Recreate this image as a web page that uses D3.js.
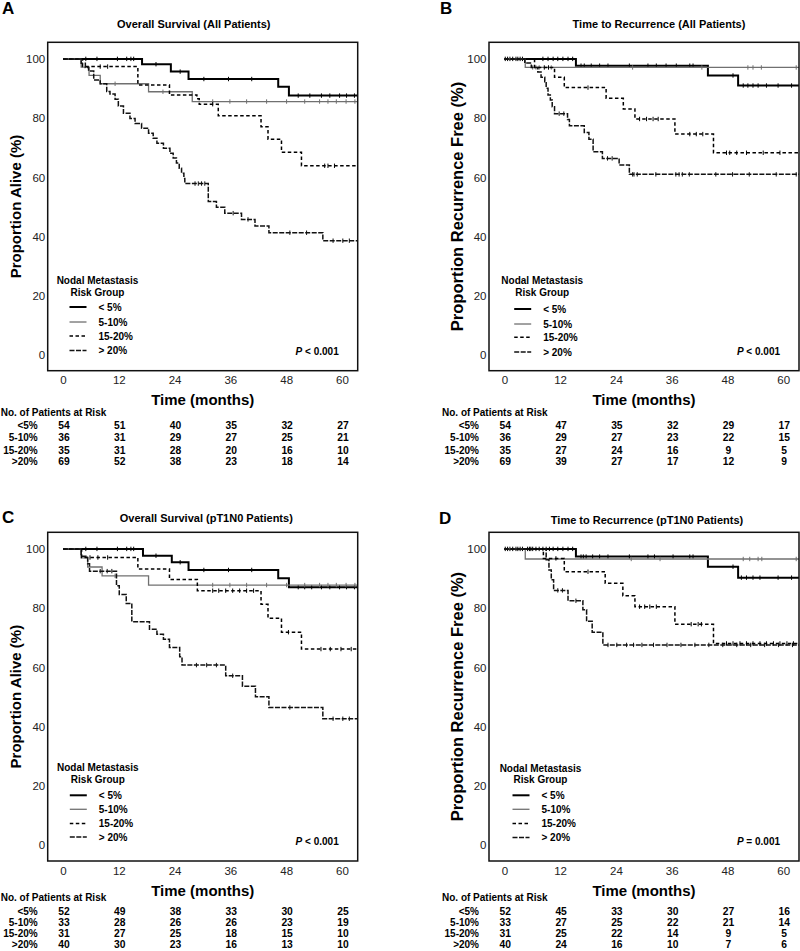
<!DOCTYPE html>
<html><head><meta charset="utf-8">
<script src="https://cdn.jsdelivr.net/npm/d3@7"></script>
<style>
body{margin:0;background:#fff;}
text{font-family:"Liberation Sans",Arial,Helvetica,sans-serif;}
</style>
</head><body>
<svg id="chart" width="800" height="951"></svg>
<script>
// ---------------- DATA ----------------
const timeTicks = [0, 12, 24, 36, 48, 60];
const pctTicks = [0, 20, 40, 60, 80, 100];
const groupNames = ["< 5%", "5-10%", "15-20%", "> 20%"];
const riskRowLabels = ["<5%", "5-10%", "15-20%", ">20%"];
const panelLetters = ["A", "B", "C", "D"];
const panelTitles = ["Overall Survival (All Patients)", "Time to Recurrence (All Patients)",
                     "Overall Survival (pT1N0 Patients)", "Time to Recurrence (pT1N0 Patients)"];
const yAxisLabels = ["Proportion Alive (%)", "Proportion Recurrence Free (%)",
                     "Proportion Alive (%)", "Proportion Recurrence Free (%)"];
const pValueTexts = ["< 0.001", "< 0.001", "< 0.001", "= 0.001"];

// Panel A: overall survival, all patients  ([month, % alive] step points)
const osAllLt5 = [[0,100],[17.0,98.2],[23.2,95.7],[27.0,93.2],[46.3,90.6],[48.6,87.6]];
const osAllLt5Cens = [4.9,7.3,11.7,13.7,14.6,15.2,20.0,25.2,30.3,35.6,40.6,50.6,53.1,55.6,57.4,59.5,61.0,62.7];
const osAll510 = [[0,100],[3.9,97.2],[5.6,94.4],[8.0,91.6],[18.4,88.9],[27.8,85.6]];
const osAll510Cens = [11.2,21.5,32.2,35.9,39.5,43.8,48.1,52.0,55.2,57.0,58.8,60.9,62.8];
const osAll1520 = [[0,100],[4.2,97.4],[16.1,91.2],[22.9,87.8],[28.8,86.5],[29.3,84.7],[33.4,80.8],[42.6,77.1],[44.1,72.9],[47.0,68.5],[51.3,63.9]];
const osAll1520Cens = [8.0,9.6,32.2,56.3,57.0,58.4];
const osAllGt20 = [[0,100],[3.9,98.5],[4.8,97.1],[5.5,95.9],[6.6,92.9],[8.0,91.6],[9.4,89.0],[10.1,88.1],[11.2,86.4],[11.9,84.1],[13.0,81.6],[14.4,79.9],[15.5,78.2],[16.9,76.6],[18.4,74.9],[19.4,73.2],[20.2,71.5],[21.6,69.8],[23.0,68.1],[23.7,66.5],[24.4,64.8],[25.0,63.1],[25.5,61.4],[26.0,59.6],[26.2,57.9],[31.25,51.8],[33.0,49.9],[34.8,47.9],[38.4,45.8],[41.3,43.6],[44.3,41.3],[55.9,38.6]];
const osAllGt20Cens = [28.4,29.1,29.8,30.5,36.6,39.8,48.8,52.4,58.1,60.2,61.6];

// Panel B: time to recurrence, all patients
const ttrAllLt5 = [[0,100],[15.4,97.7],[43.8,94.4],[50.3,91.0]];
const ttrAllLt5Cens = [0.2,0.7,1.2,1.8,2.5,2.9,3.4,3.9,8.3,9.4,10.5,11.5,12.6,13.7,14.7,16.5,17.2,18.7,20.5,22.3,26.9,30.9,32.7,34.8,37.0,39.9,40.6,49.2,51.4,52.4,53.5,54.6,56.4,58.9,61.8];
const ttrAll510 = [[0,100],[4.5,97.1]];
const ttrAll510Cens = [6.1,6.8,7.5,10.1,27.6,42.5,52.4,53.5,55.3,62.8];
const ttrAll1520 = [[0,100],[6.5,97.1],[10.8,93.8],[12.9,90.3],[21.9,86.7],[25.6,83.1],[28.1,79.7],[36.7,74.6],[45.0,68.3]];
const ttrAll1520Cens = [8.6,9.5,18.0,29.1,30.6,32.0,33.1,39.9,41.3,42.7,47.8,48.5,50.0,52.1,55.7,59.3];
const ttrAllGt20 = [[0,100],[4.4,98.6],[5.8,97.1],[7.2,95.6],[7.9,93.8],[8.7,92.3],[9.0,90.1],[9.4,87.8],[9.9,86.1],[10.3,83.8],[10.8,81.5],[13.6,79.5],[14.0,77.4],[17.2,75.1],[18.2,72.9],[19.1,68.6],[21.1,66.4],[24.7,64.2],[26.9,61.0]];
const ttrAllGt20Cens = [11.8,12.8,22.2,23.2,27.6,27.9,28.6,32.6,36.9,37.6,38.3,39.8,45.5,49.1,52.7,58.5,62.8];

// Panel C: overall survival, pT1N0 patients
const osT1Lt5 = [[0,100],[17.2,97.7],[23.4,95.5],[27.0,92.9],[46.3,90.1],[48.6,87.1]];
const osT1Lt5Cens = [4.9,7.3,11.7,13.7,14.6,15.2,20.0,25.2,30.3,35.6,40.6,50.6,52.0,53.5,55.6,57.4,59.5,61.0,62.7];
const osT1510 = [[0,100],[3.9,97.0],[5.3,93.9],[8.4,90.9],[18.4,87.8]];
const osT1510Cens = [11.2,32.2,35.9,39.5,43.8,48.1,52.0,55.2,57.0,58.8,60.9,62.8];
const osT11520 = [[0,100],[4.0,97.1],[16.1,93.2],[22.9,89.7],[28.9,85.9],[42.6,81.3],[44.1,76.6],[47.0,71.9],[51.3,66.2]];
const osT11520Cens = [5.8,7.5,9.6,32.2,33.5,35.0,36.5,38.0,39.5,41.0,48.5,55.5,57.5,59.8,62.0];
const osT1Gt20 = [[0,100],[3.9,97.5],[5.3,95.0],[5.7,92.5],[11.5,87.6],[12.1,84.6],[13.6,81.6],[14.8,75.4],[18.6,72.9],[20.2,71.2],[21.6,69.5],[22.9,66.7],[25.1,63.6],[25.6,60.8],[35.0,57.2],[38.6,53.7],[41.4,50.1],[44.3,46.5],[55.9,42.7]];
const osT1Gt20Cens = [8.0,9.5,10.5,28.7,30.9,33.0,36.5,48.8,58.1,60.2,61.6];

// Panel D: time to recurrence, pT1N0 patients
const ttrT1Lt5 = [[0,100],[15.4,97.4],[43.8,94.0],[50.3,90.3]];
const ttrT1Lt5Cens = [0.2,0.7,1.2,1.8,2.5,2.9,3.4,3.9,5.0,5.4,5.7,6.1,6.8,7.5,8.3,9.0,9.7,10.5,11.5,12.6,13.7,14.7,16.5,17.0,17.6,19.0,20.5,22.3,26.9,30.9,32.3,36.3,39.9,40.6,49.2,51.0,52.1,53.5,55.0,58.9,61.8];
const ttrT1510 = [[0,100],[4.5,96.6]];
const ttrT1510Cens = [27.3,33.5,51.4,52.8,54.6,55.4,62.8];
const ttrT11520 = [[0,100],[8.4,96.8],[12.9,92.3],[21.7,88.4],[25.5,84.2],[28.1,80.5],[36.7,74.6],[45.0,68.1]];
const ttrT11520Cens = [11.1,18.0,29.1,30.2,31.3,32.7,40.2,41.7,42.4,47.8,49.2,50.7,52.1,53.5,55.0,56.4,57.9,59.3,60.8,62.2];
const ttrT1Gt20 = [[0,100],[9.0,96.3],[9.6,92.9],[10.1,89.6],[10.6,86.0],[13.7,82.5],[16.9,79.5],[17.7,75.6],[18.9,71.9],[21.2,67.6]];
const ttrT1Gt20Cens = [11.5,12.5,15.4,22.3,24.2,26.3,27.8,29.6,32.1,35.0,38.0,41.0,44.0,47.0,50.0,53.0,56.0,59.0,62.0];

// numbers at risk (rows: <5%, 5-10%, 15-20%, >20%; columns: 0..60 months)
const riskOsAll  = [[54,51,40,35,32,27],[36,31,29,27,25,21],[35,31,28,20,16,10],[69,52,38,23,18,14]];
const riskTtrAll = [[54,47,35,32,29,17],[36,29,27,23,22,15],[35,27,24,16,9,5],[69,39,27,17,12,9]];
const riskOsT1   = [[52,49,38,33,30,25],[33,28,26,26,23,19],[31,27,25,18,15,10],[40,30,23,16,13,10]];
const riskTtrT1  = [[52,45,33,30,27,16],[33,27,25,22,21,14],[31,25,22,14,9,5],[40,24,16,10,7,6]];

// ---------------- STYLE / LAYOUT ----------------
const lineStyles = [
  {stroke:"#000", width:2.0, dash:null},
  {stroke:"#707070", width:1.3, dash:null},
  {stroke:"#000", width:1.5, dash:"3.5,2.5"},
  {stroke:"#111", width:1.5, dash:"5,1.5"}
];
const xDomain = [-3.3, 63.4];
const yDomain = [-5.3, 105.6];

const panels = [
  {curves:[osAllLt5,osAll510,osAll1520,osAllGt20], cens:[osAllLt5Cens,osAll510Cens,osAll1520Cens,osAllGt20Cens], risk:riskOsAll,
   l:47.7, r:357.7, t:42.3, b:370.7, titleX:193.8, titleY:28, letX:2, letY:14, yLabX:15, yLabSize:15,
   legTitleY:[-75,-62.7], legRows:[-48,-33,-19,-4.5], legX:57, riskHeadY:415.8, riskRowsY:[429.3,441.3,453.6,464.6]},
  {curves:[ttrAllLt5,ttrAll510,ttrAll1520,ttrAllGt20], cens:[ttrAllLt5Cens,ttrAll510Cens,ttrAll1520Cens,ttrAllGt20Cens], risk:riskTtrAll,
   l:489, r:799, t:42.3, b:370.7, titleX:659, titleY:28, letX:440, letY:14, yLabX:457, yLabSize:16.5,
   legTitleY:[-75,-62.7], legRows:[-46,-31,-17.7,-3], legX:501.7, riskHeadY:415.8, riskRowsY:[429.3,441.3,453.6,464.6]},
  {curves:[osT1Lt5,osT1510,osT11520,osT1Gt20], cens:[osT1Lt5Cens,osT1510Cens,osT11520Cens,osT1Gt20Cens], risk:riskOsT1,
   l:47.7, r:357.7, t:532.3, b:861, titleX:206.3, titleY:522.3, letX:2, letY:522.5, yLabX:15.5, yLabSize:15,
   legTitleY:[-77.7,-66], legRows:[-50,-36,-21.7,-8.3], legX:57.3, riskHeadY:900.8, riskRowsY:[914.6,926.3,936.9,947.9]},
  {curves:[ttrT1Lt5,ttrT1510,ttrT11520,ttrT1Gt20], cens:[ttrT1Lt5Cens,ttrT1510Cens,ttrT11520Cens,ttrT1Gt20Cens], risk:riskTtrT1,
   l:489, r:799, t:532.3, b:861, titleX:647, titleY:524, letX:439, letY:523.5, yLabX:456.7, yLabSize:16.5,
   legTitleY:[-77.3,-65.7], legRows:[-50,-36,-21.7,-7.7], legX:500, riskHeadY:900.5, riskRowsY:[914.6,926,936.9,947.9]}
];

const svg = d3.select("#chart");

function survAt(curve, t) {
  let v = curve[0][1];
  for (const p of curve) { if (p[0] <= t) v = p[1]; }
  return v;
}

panels.forEach((P, i) => {
  const x = d3.scaleLinear().domain(xDomain).range([P.l, P.r]);
  const y = d3.scaleLinear().domain(yDomain).range([P.b, P.t]);
  const g = svg.append("g");

  // letter & title
  g.append("text").attr("x", P.letX).attr("y", P.letY).attr("font-size", 17).attr("font-weight", "bold")
    .text(panelLetters[i]);
  g.append("text").attr("x", P.titleX).attr("y", P.titleY).attr("text-anchor", "middle")
    .attr("font-size", 11).attr("font-weight", "bold").text(panelTitles[i]);

  // axes
  const yAx = g.append("g").attr("transform", `translate(${P.l},0)`)
    .call(d3.axisLeft(y).tickValues(pctTicks).tickSize(0).tickPadding(2.5));
  yAx.select(".domain").remove();
  yAx.selectAll("text").attr("font-size", 11.5).attr("fill", "#222").style("font-family", "'Liberation Sans',Arial,sans-serif");
  const xAx = g.append("g").attr("transform", `translate(0,${P.b})`)
    .call(d3.axisBottom(x).tickValues(timeTicks).tickSize(0).tickPadding(5.5));
  xAx.select(".domain").remove();
  xAx.selectAll("text").attr("font-size", 11.5).attr("fill", "#222").style("font-family", "'Liberation Sans',Arial,sans-serif");

  // axis titles
  g.append("text").attr("transform", `translate(${P.yLabX},${(P.t + P.b) / 2}) rotate(-90)`)
    .attr("text-anchor", "middle").attr("dominant-baseline", "central")
    .attr("font-size", P.yLabSize).attr("font-weight", "bold").text(yAxisLabels[i]);
  g.append("text").attr("x", (P.l + P.r) / 2).attr("y", P.b + 34.5).attr("text-anchor", "middle")
    .attr("font-size", 15).attr("font-weight", "bold").text("Time (months)");

  // curves
  const line = d3.line().x(d => x(d[0])).y(d => y(d[1])).curve(d3.curveStepAfter);
  P.curves.forEach((c, k) => {
    const st = lineStyles[k];
    const pts = c.concat([[xDomain[1], c[c.length - 1][1]]]);
    g.append("path").attr("d", line(pts)).attr("fill", "none")
      .attr("stroke", st.stroke).attr("stroke-width", st.width)
      .attr("stroke-dasharray", st.dash);
    g.selectAll(null).data(P.cens[k]).enter().append("line")
      .attr("x1", t => x(t)).attr("x2", t => x(t))
      .attr("y1", t => y(survAt(c, t)) - 2.2).attr("y2", t => y(survAt(c, t)) + 2.2)
      .attr("stroke", st.stroke).attr("stroke-width", 1);
  });

  // frame
  g.append("rect").attr("x", P.l).attr("y", P.t).attr("width", P.r - P.l).attr("height", P.b - P.t)
    .attr("fill", "none").attr("stroke", "#111").attr("stroke-width", 1.5);

  // legend
  const zeroY = y(0);
  const legCx = P.legX + 40.5;
  g.append("text").attr("x", legCx).attr("y", zeroY + P.legTitleY[0] + 3.6).attr("text-anchor", "middle")
    .attr("font-size", 10).attr("font-weight", "bold").text("Nodal Metastasis");
  g.append("text").attr("x", legCx).attr("y", zeroY + P.legTitleY[1] + 3.6).attr("text-anchor", "middle")
    .attr("font-size", 10).attr("font-weight", "bold").text("Risk Group");
  groupNames.forEach((nm, k) => {
    const st = lineStyles[k];
    const ly = zeroY + P.legRows[k];
    g.append("line").attr("x1", P.legX + 12.5).attr("x2", P.legX + 29.5).attr("y1", ly).attr("y2", ly)
      .attr("stroke", st.stroke).attr("stroke-width", st.width).attr("stroke-dasharray", st.dash);
    g.append("text").attr("x", P.legX + 41.5).attr("y", ly + 3.6).attr("font-size", 10)
      .attr("font-weight", "bold").text(nm);
  });

  // p-value
  const pt = g.append("text").attr("x", P.r - 19).attr("y", zeroY - 0.5).attr("text-anchor", "end")
    .attr("font-size", 10).attr("font-weight", "bold");
  pt.append("tspan").attr("font-style", "italic").text("P");
  pt.append("tspan").text(" " + pValueTexts[i]);

  // risk table
  g.append("text").attr("x", P.l - 47).attr("y", P.riskHeadY).attr("font-size", 10).attr("font-weight", "bold")
    .text("No. of Patients at Risk");
  riskRowLabels.forEach((lab, k) => {
    const ry = P.riskRowsY[k];
    g.append("text").attr("x", P.l - 10).attr("y", ry).attr("text-anchor", "end").attr("font-size", 10)
      .attr("font-weight", "bold").text(lab);
    g.selectAll(null).data(P.risk[k]).enter().append("text")
      .attr("x", (d, j) => x(timeTicks[j]) + 1).attr("y", ry).attr("text-anchor", "middle")
      .attr("font-size", 10.3).attr("font-weight", "bold").text(d => d);
  });
});
</script>
</body></html>
